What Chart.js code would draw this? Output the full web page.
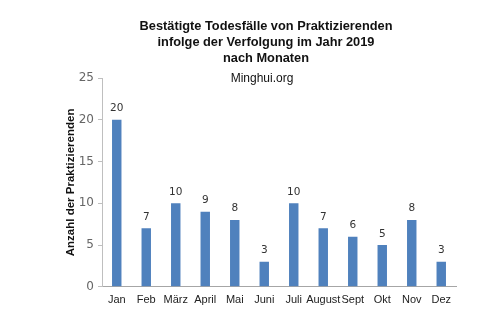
<!DOCTYPE html>
<html>
<head>
<meta charset="utf-8">
<script src="https://cdn.jsdelivr.net/npm/chart.js@4.4.1/dist/chart.umd.min.js"></script>
<style>
  html, body { margin: 0; padding: 0; background: #fff; }
  #wrap { width: 500px; height: 328px; }
</style>
</head>
<body>
<div id="wrap"><canvas id="todesfaelle"></canvas></div>
<script>
// Monate und Anzahl der Todesfälle
const monate = ['Jan', 'Feb', 'März', 'April', 'Mai', 'Juni', 'Juli', 'August', 'Sept', 'Okt', 'Nov', 'Dez'];
const todesfaelle = [20, 7, 10, 9, 8, 3, 10, 7, 6, 5, 8, 3];
const yTicks = [0, 5, 10, 15, 20, 25];

const titelZeilen = [
    'Bestätigte Todesfälle von Praktizierenden',
    'infolge der Verfolgung im Jahr 2019',
    'nach Monaten'
];
const quelle = 'Minghui.org';

// Kopfzeilen über dem Diagramm
const kopfPlugin = {
    id: 'kopf',
    afterDraw(chart) {
        const ctx = chart.ctx;
        ctx.save();
        ctx.fillStyle = '#111';
        ctx.textAlign = 'center';
        ctx.textBaseline = 'middle';
        ctx.font = 'bold 12.8px "Liberation Sans", Arial, sans-serif';
        titelZeilen.forEach(function (z, i) {
            ctx.fillText(z, 266, 26 + i * 16);
        });
        ctx.font = '12px "Liberation Sans", Arial, sans-serif';
        ctx.fillText(quelle, 262, 79);
        ctx.restore();
    }
};

// Werte über den Balken
const werte = {
    id: 'werte',
    afterDatasetsDraw(chart) {
        const ctx = chart.ctx;
        ctx.save();
        ctx.fillStyle = '#333';
        ctx.font = '10.5px "DejaVu Sans", Verdana, sans-serif';
        ctx.textAlign = 'center';
        ctx.textBaseline = 'bottom';
        chart.getDatasetMeta(0).data.forEach(function (bar, i) {
            ctx.fillText(todesfaelle[i], bar.x, bar.y - 6);
        });
        ctx.restore();
    }
};

new Chart(document.getElementById('todesfaelle'), {
    type: 'bar',
    data: {
        labels: monate,
        datasets: [{
            data: todesfaelle,
            backgroundColor: '#4f81bd',
            borderWidth: 0,
            barPercentage: 0.32,
            categoryPercentage: 1
        }]
    },
    options: {
        responsive: true,
        maintainAspectRatio: false,
        animation: false,
        layout: { padding: { top: 78, right: 44, bottom: 14, left: 64 } },
        plugins: {
            legend: { display: false },
            tooltip: { enabled: false }
        },
        scales: {
            x: {
                grid: { display: false, drawTicks: false },
                border: { color: '#a6a6a6' },
                ticks: {
                    color: '#222',
                    padding: 7,
                    maxRotation: 0,
                    autoSkip: false,
                    font: { family: '"Liberation Sans", Arial, sans-serif', size: 11 }
                }
            },
            y: {
                min: 0,
                max: 25,
                afterFit(scale) { scale.width = 38; },
                afterBuildTicks(scale) {
                    scale.ticks = yTicks.map(function (v) { return { value: v }; });
                },
                grid: { display: true, drawOnChartArea: false, tickLength: 4, color: '#bfbfbf' },
                border: { color: '#bfbfbf' },
                ticks: {
                    color: '#666',
                    padding: 4,
                    font: { family: '"DejaVu Sans", Verdana, sans-serif', size: 12 }
                },
                title: {
                    display: true,
                    text: 'Anzahl der Praktizierenden',
                    color: '#111',
                    padding: { top: 0, bottom: 0 },
                    font: { family: '"Liberation Sans", Arial, sans-serif', size: 11.5, weight: 'bold' }
                }
            }
        }
    },
    plugins: [kopfPlugin, werte]
});
</script>
</body>
</html>
